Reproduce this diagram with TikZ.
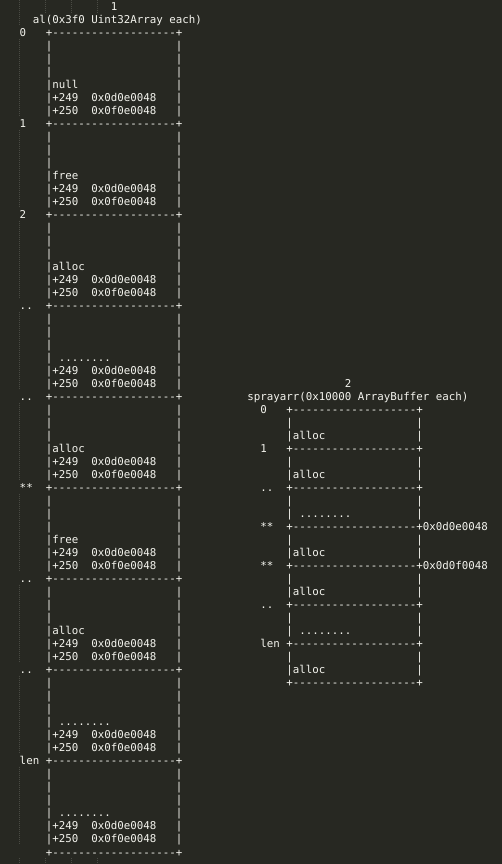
\documentclass[tikz,border=0pt]{standalone}
\usepackage{fontspec}
\setmonofont{DejaVu Sans Mono}
\definecolor{bg}{HTML}{272822}
\definecolor{fg}{HTML}{F4F4EE}
\definecolor{guidec}{HTML}{4A4B44}
\tikzset{
  txt/.style={anchor=base west, inner sep=0pt, outer sep=0pt, text=fg,
    font=\ttfamily\fontsize{10.8pt}{13pt}\selectfont},
  guide/.style={draw=guidec, line width=0.6pt, dash pattern=on 1pt off 1pt},
}
\newcommand\cx[1]{19.75+6.5*(#1)}
\newcommand\ly[1]{853-13*(#1)}
\newcommand\sepline{+-------------------+}
\newcommand\twodt{..}
\newcommand\eightdt{........}
\begin{document}
\begin{tikzpicture}[x=1pt,y=1pt]
\fill[bg] (0,0) rectangle (502,864);
\useasboundingbox (0,0) rectangle (502,864);
% indent guides
\draw[guide] (19.75,864) -- (19.75,838);
\foreach \k in {0,1,2,3,4,5,6,7,8} {
  \draw[guide] (19.75,{864-13*(3+7*\k)}) -- (19.75,{864-13*(9+7*\k)});
}
\foreach \gx in {45.75,71.75,97.75} {
  \draw[guide] (\gx,864) -- (\gx,851);
}
\foreach \gx in {19.75,45.75,71.75,97.75} {
  \draw[guide] (\gx,6) -- (\gx,0);
}
% left table
\node[txt] (h1) at ({\cx{14}},{\ly{0}}) {1};
\node[txt] (t1) at ({\cx{2}},{\ly{1}}) {al(0x3f0 Uint32Array each)};
\foreach \k/\lab/\word/\wc in {0/0/null/5,1/1/free/5,2/2/alloc/5,3/\twodt/\eightdt/6,4/\twodt/alloc/5,5/**/free/5,6/\twodt/alloc/5,7/\twodt/\eightdt/6,8/len/\eightdt/6} {
  \pgfmathtruncatemacro\s{2+7*\k}
  \node[txt] (ll\k) at ({\cx{0}},{\ly{\s}}) {\lab};
  \node[txt] (ls\k) at ({\cx{4}},{\ly{\s}}) {\sepline};
  \foreach \i in {1,2,3,4,5,6} {
    \node[txt] (lb\k-\i) at ({\cx{4}},{\ly{\s+\i}}) {|};
    \node[txt] (le\k-\i) at ({\cx{24}},{\ly{\s+\i}}) {|};
  }
  \node[txt] (lw\k) at ({\cx{\wc}},{\ly{\s+4}}) {\word};
  \node[txt] (la\k) at ({\cx{5}},{\ly{\s+5}}) {+249};
  \node[txt] (lx\k) at ({\cx{11}},{\ly{\s+5}}) {0x0d0e0048};
  \node[txt] (lc\k) at ({\cx{5}},{\ly{\s+6}}) {+250};
  \node[txt] (lz\k) at ({\cx{11}},{\ly{\s+6}}) {0x0f0e0048};
}
\node[txt] (lend) at ({\cx{4}},{\ly{65}}) {\sepline};
% right table
\node[txt] (h2) at ({\cx{50}},{\ly{29}}) {2};
\node[txt] (t2) at ({\cx{35}},{\ly{30}}) {sprayarr(0x10000 ArrayBuffer each)};
\foreach \k/\lab/\word/\wc in {0/0/alloc/42,1/1/alloc/42,2/\twodt/\eightdt/43,3/**/alloc/42,4/**/alloc/42,5/\twodt/\eightdt/43,6/len/alloc/42} {
  \pgfmathtruncatemacro\s{31+3*\k}
  \node[txt] (rl\k) at ({\cx{37}},{\ly{\s}}) {\lab};
  \node[txt] (rs\k) at ({\cx{41}},{\ly{\s}}) {\sepline};
  \foreach \i in {1,2} {
    \node[txt] (rb\k-\i) at ({\cx{41}},{\ly{\s+\i}}) {|};
    \node[txt] (re\k-\i) at ({\cx{61}},{\ly{\s+\i}}) {|};
  }
  \node[txt] (rw\k) at ({\cx{\wc}},{\ly{\s+2}}) {\word};
}
\node[txt] (rend) at ({\cx{41}},{\ly{52}}) {\sepline};
\node[txt] (ad1) at ({\cx{62}},{\ly{40}}) {0x0d0e0048};
\node[txt] (ad2) at ({\cx{62}},{\ly{43}}) {0x0d0f0048};
\end{tikzpicture}
\end{document}
